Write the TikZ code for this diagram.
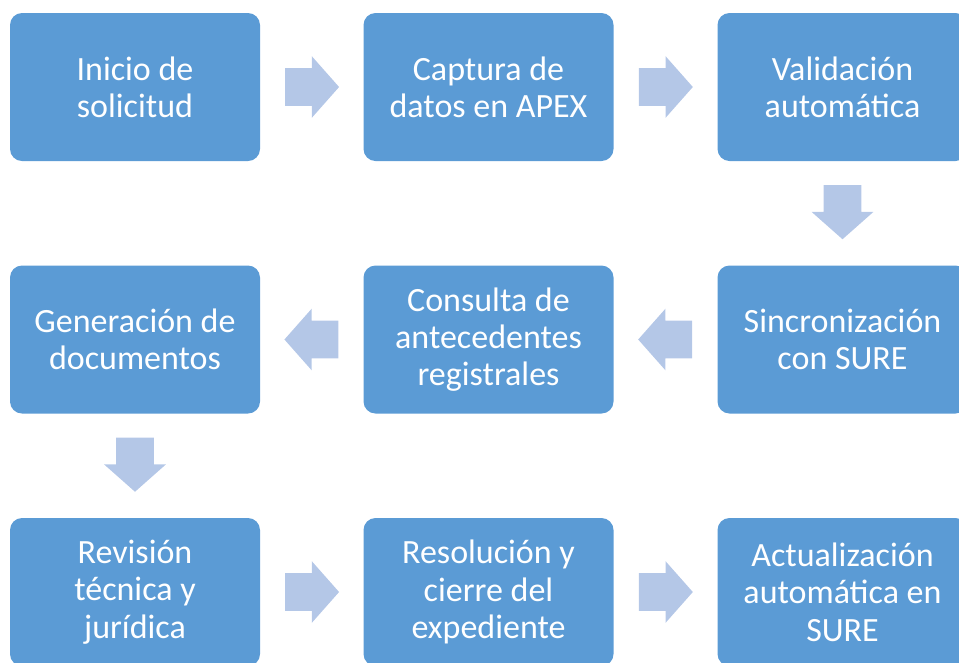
\documentclass[tikz,border=0pt]{standalone}
\usepackage{fontspec}
\setmainfont{Carlito}
\usepackage{tikz}
\usetikzlibrary{shapes.arrows, positioning}
\definecolor{flowblue}{HTML}{5B9BD5}
\definecolor{flowbluelight}{HTML}{B4C7E7}

\begin{document}
\begin{tikzpicture}[
  x=0.75pt, y=-0.75pt,
  paso/.style={fill=flowblue, rounded corners=9pt, minimum width=187.5pt, minimum height=111pt, align=center, text=white, font=\fontsize{25.5}{28}\selectfont, inner sep=1mm},
  flecha/.style={single arrow, fill=flowbluelight, minimum height=40.5pt, minimum width=0pt, inner xsep=0pt, inner ysep=13.9pt, single arrow head extend=9pt, single arrow tip angle=97}
]
\useasboundingbox (0,0) rectangle (959,662);

\node[paso] (p1) at (135,87) {Inicio de\\ solicitud};
\node[paso] (p2) at (488.5,87) {Captura de\\ datos en APEX};
\node[paso] (p3) at (842.5,87) {Validación\\ automática};

\node[paso] (p4) at (842.5,339.5) {Sincronización\\ con SURE};
\node[paso] (p5) at (488.5,339.5) {Consulta de\\ antecedentes\\ registrales};
\node[paso] (p6) at (135,339.5) {Generación de\\ documentos};

\node[paso] (p7) at (135,592) {Revisión\\ técnica y\\ jurídica};
\node[paso] (p8) at (488.5,592) {Resolución y\\ cierre del\\ expediente};
\node[paso] (p9) at (842.5,592) {Actualización\\ automática en\\ SURE};

% block arrows between the steps
\path (p1) -- node[flecha, xshift=-6pt] (f12) {} (p2);
\path (p2) -- node[flecha, xshift=-6pt] (f23) {} (p3);
\path (p3) -- node[flecha, yshift=7pt, rotate=-90] (f34) {} (p4);
\path (p4) -- node[flecha, xshift=6pt, rotate=180] (f45) {} (p5);
\path (p5) -- node[flecha, xshift=6pt, rotate=180] (f56) {} (p6);
\path (p6) -- node[flecha, yshift=7pt, rotate=-90] (f67) {} (p7);
\path (p7) -- node[flecha, xshift=-6pt] (f78) {} (p8);
\path (p8) -- node[flecha, xshift=-6pt] (f89) {} (p9);
\end{tikzpicture}
\end{document}
